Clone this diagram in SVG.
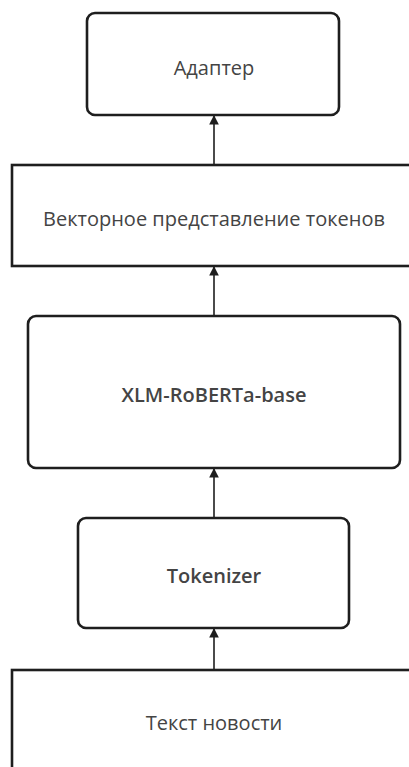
<svg xmlns="http://www.w3.org/2000/svg" width="409" height="767" viewBox="0 0 409 767">
<style>
.box{fill:#fff;stroke:#1e1e1e;stroke-width:2.6}
.t{font-family:"Open Sans","Noto Sans",sans-serif;font-size:20px;fill:#444;text-anchor:middle;dominant-baseline:central}
.m{font-weight:500}
.b{font-weight:600}
.c{stroke:#1e1e1e;stroke-width:1.6;fill:none}
</style>
<defs>
<marker id="ah" viewBox="0 0 10 10" refX="10" refY="5" markerWidth="6" markerHeight="6" orient="auto" markerUnits="strokeWidth">
<path d="M0,0L10,5L0,10z" fill="#1e1e1e"/>
</marker>
</defs>
<g id="connectors">
<line class="c" x1="214" y1="165" x2="214" y2="115" marker-end="url(#ah)"/>
<line class="c" x1="214" y1="316" x2="214" y2="266" marker-end="url(#ah)"/>
<line class="c" x1="214" y1="518" x2="214" y2="468" marker-end="url(#ah)"/>
<line class="c" x1="214" y1="670" x2="214" y2="628" marker-end="url(#ah)"/>
</g>
<g id="adapter">
<rect class="box" x="87" y="13" width="252" height="102" rx="8"/>
<text class="t m" x="214" y="67">Адаптер</text>
</g>
<g id="vectors">
<rect class="box" x="12" y="165" width="420" height="101"/>
<text class="t" x="214" y="218">Векторное представление токенов</text>
</g>
<g id="xlmr">
<rect class="box" x="28" y="316" width="372" height="152" rx="8"/>
<text class="t b" x="214" y="394">XLM-RoBERTa-base</text>
</g>
<g id="tokenizer">
<rect class="box" x="78" y="518" width="271" height="110" rx="8"/>
<text class="t b" x="214" y="575">Tokenizer</text>
</g>
<g id="news">
<rect class="box" x="12" y="670" width="420" height="120"/>
<text class="t" x="214" y="722">Текст новости</text>
</g>
</svg>
